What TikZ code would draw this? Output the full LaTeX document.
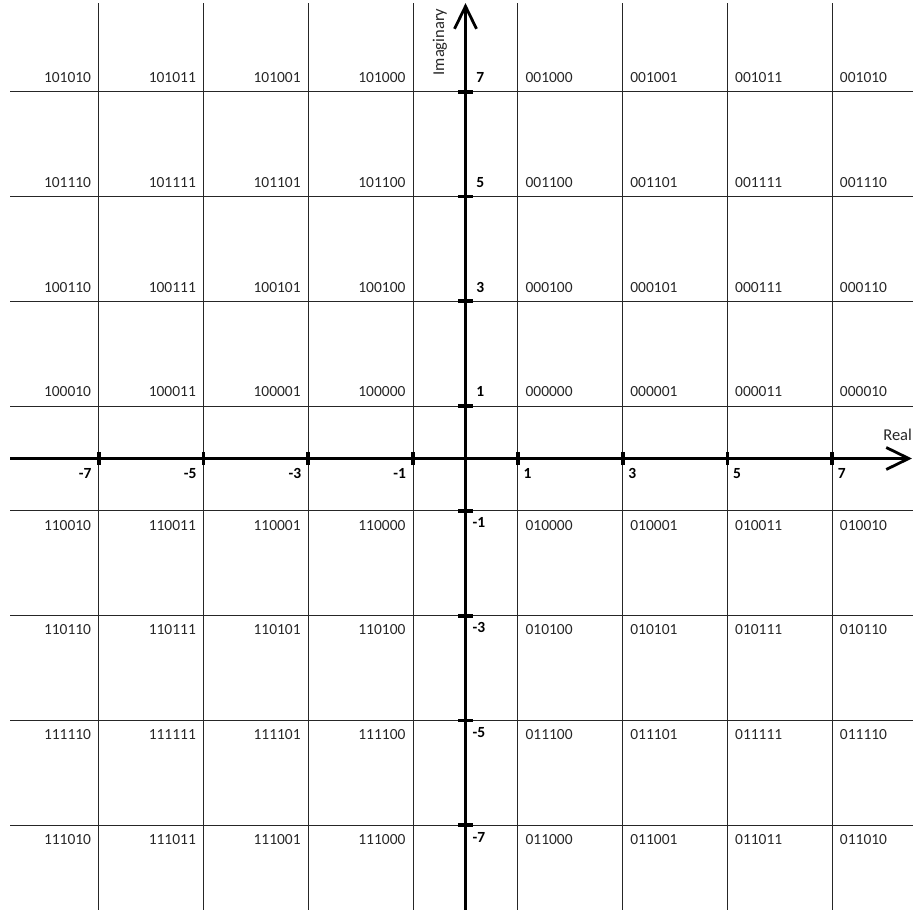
\documentclass[tikz,border=0pt]{standalone}
\usepackage{fontspec}
\setmainfont{Carlito}
\usetikzlibrary{arrows.meta,positioning}

\begin{document}
\begin{tikzpicture}[x=1.048cm, y=1.048cm,
  grid/.style={line width=0.6pt, black!85},
  axis/.style={line width=1.8pt, -{Straight Barb[length=4.5mm,width=4.4mm,line width=1.6pt]}},
  tickmark/.style={line width=2.2pt},
  ticklabel/.style={font=\fontsize{8.8}{10}\selectfont\bfseries, inner sep=0pt},
  code/.style={font=\fontsize{8.8}{10}\selectfont, inner sep=0pt, text=black!85},
  axisname/.style={font=\fontsize{9.4}{11}\selectfont, inner sep=0pt, text=black!85}]
  \useasboundingbox (-8.884,-8.616) rectangle (8.540,8.750);
  % Grid through the odd levels
  \foreach \v in {-7,-5,...,7} {
    \draw[grid] (-8.69,\v) -- (8.54,\v);
    \draw[grid] (\v,-8.616) -- (\v,8.69);
  }
  % Axes
  \coordinate (reW) at (-8.69,0);
  \coordinate (reE) at (8.52,0);
  \coordinate (imS) at (0,-8.616);
  \coordinate (imN) at (0,8.69);
  \draw[axis] (reW) -- (reE);
  \draw[axis] (imS) -- (imN);
  \node[axisname, anchor=west] (real) at (7.967,0.45) {Real};
  \node[axisname, rotate=90] (imag) at (-0.49,7.95) {Imaginary};
  % Ticks and their values
  \foreach \v in {1,3,5,7} {
    \draw[tickmark] (\v,-0.125) -- (\v,0.125);
    \draw[tickmark] (-\v,-0.125) -- (-\v,0.125);
    \draw[tickmark] (-0.14,\v) -- (0.14,\v);
    \draw[tickmark] (-0.14,-\v) -- (0.14,-\v);
    \node[ticklabel, anchor=west] (rp\v) at (\v+0.1,-0.29) {\v};
    \node[ticklabel, anchor=east] (rm\v) at (-\v-0.13,-0.28) {-\v};
    \node[ticklabel, anchor=west] (ip\v) at (0.2,\v+0.27) {\v};
    \node[ticklabel, anchor=west] (im\v) at (0.13,-\v-0.23) {-\v};
  }
  % Gray coded labels of the 64 points
  \foreach \sx/\bx/\anc in {1/0/west,-1/1/east}
   \foreach \sy/\by in {1/0,-1/1}
    \foreach \mx/\gx in {1/00,3/01,5/11,7/10}
     \foreach \my/\gy in {1/00,3/01,5/11,7/10} {
       \node[code, anchor=\anc] (c\bx\by\gy\gx) at ({\sx*(\mx+0.14)},{\sy*(\my+0.27)}) {\bx\by\gy\gx};
     }
\end{tikzpicture}
\end{document}
